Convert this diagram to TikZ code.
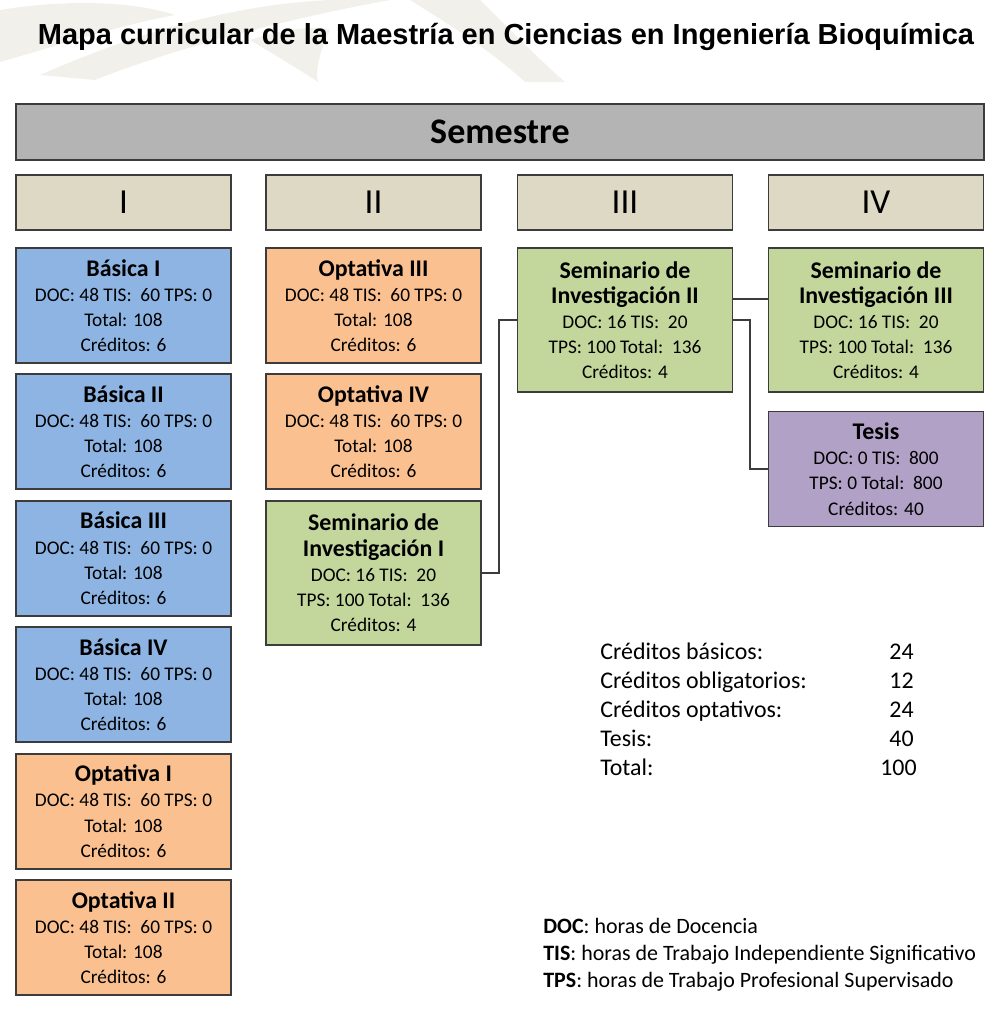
\documentclass[tikz,border=0pt]{standalone}
\usepackage{fontspec}
\setmainfont{Carlito}
\newfontfamily\titlefont{Liberation Sans}
\usetikzlibrary{positioning,calc}
\definecolor{basica}{RGB}{141,180,226}
\definecolor{optativa}{RGB}{250,192,144}
\definecolor{seminario}{RGB}{195,214,155}
\definecolor{tesis}{RGB}{178,161,199}
\definecolor{encab}{RGB}{221,217,196}
\definecolor{barra}{RGB}{180,180,180}
\definecolor{marco}{RGB}{60,60,60}
\definecolor{marca}{RGB}{242,240,234}

% renglon de titulo de una materia
\newcommand{\tit}[1]{{\fontsize{13.6}{16}\selectfont\bfseries #1}}
\newcommand{\horasA}{DOC: 48 TIS:\ \ 60 TPS: 0\\Total: 108\\Créditos: 6}
\newcommand{\horasS}{DOC: 16 TIS:\ \ 20\\TPS: 100 Total:\ \ 136\\Créditos: 4}

\begin{document}
\begin{tikzpicture}[x=0.02cm,y=-0.02cm,
  caja/.style={draw=marco,line width=1.1pt,minimum width=4.30cm,minimum height=2.30cm,
    align=center,font=\fontsize{11}{14.3}\selectfont,inner sep=2pt},
  alta/.style={caja,minimum height=2.88cm},
  sem/.style={draw=marco,line width=1.1pt,fill=encab,minimum width=4.30cm,minimum height=1.11cm,
    font=\fontsize{20}{24}\selectfont},
  liga/.style={marco,line width=1.1pt},
  leyenda/.style={font=\fontsize{13.6}{16}\selectfont,inner sep=0pt},
  nota/.style={font=\fontsize{12.5}{15}\selectfont,inner sep=0pt},
]
  \useasboundingbox (0,0) rectangle (1000,1014);

  % marca de agua
  \fill[marca] (0,10) .. controls (60,0) and (130,0) .. (175,15) .. controls (120,25) and (60,45) .. (0,62) -- cycle;
  \fill[marca] (40,75) .. controls (120,40) and (220,5) .. (330,0) -- (390,0) .. controls (280,20) and (170,50) .. (95,80) -- cycle;
  \fill[marca] (250,40) .. controls (280,30) and (310,25) .. (330,30) .. controls (320,50) and (315,70) .. (318,82) .. controls (300,70) and (275,55) .. (250,40) -- cycle;
  \fill[marca] (410,0) -- (480,0) .. controls (510,30) and (540,60) .. (565,82) -- (525,82) .. controls (490,50) and (450,25) .. (410,0) -- cycle;

  \node[font=\titlefont\bfseries\fontsize{16.5}{20}\selectfont] (titulo) at (506,37)
    {Mapa curricular de la Maestría en Ciencias en Ingeniería Bioquímica};

  \node[draw=marco,line width=1.1pt,fill=barra,minimum width=19.36cm,minimum height=1.13cm,
    font=\fontsize{20.5}{24}\selectfont\bfseries] (semestre) at (500,132) {Semestre};

  \node[sem] (s1) at (123.5,202.5) {I};
  \node[sem] (s2) at (373.5,202.5) {II};
  \node[sem] (s3) at (625,202.5) {III};
  \node[sem] (s4) at (876,202.5) {IV};

  % primer semestre
  \node[caja,fill=basica] (b1) at (123.5,305.5) {\tit{Básica I}\\\horasA};
  \node[caja,fill=basica,below=0.19cm of b1] (b2) {\tit{Básica II}\\\horasA};
  \node[caja,fill=basica,below=0.19cm of b2] (b3) {\tit{Básica III}\\\horasA};
  \node[caja,fill=basica,below=0.19cm of b3] (b4) {\tit{Básica IV}\\\horasA};
  \node[caja,fill=optativa,below=0.19cm of b4] (o1) {\tit{Optativa I}\\\horasA};
  \node[caja,fill=optativa,below=0.19cm of o1] (o2) {\tit{Optativa II}\\\horasA};

  % segundo semestre
  \node[caja,fill=optativa] (o3) at (373.5,305.5) {\tit{Optativa III}\\\horasA};
  \node[caja,fill=optativa,below=0.19cm of o3] (o4) {\tit{Optativa IV}\\\horasA};
  \node[alta,fill=seminario,below=0.19cm of o4] (sem1) {\tit{Seminario de}\\\tit{Investigación I}\\\horasS};

  % tercer y cuarto semestre
  \node[alta,fill=seminario] (sem2) at (625,320) {\tit{Seminario de}\\\tit{Investigación II}\\\horasS};
  \node[alta,fill=seminario] (sem3) at (876,320) {\tit{Seminario de}\\\tit{Investigación III}\\\horasS};
  \node[caja,fill=tesis] (tesis) at (876,469) {\tit{Tesis}\\DOC: 0 TIS:\ \ 800\\TPS: 0 Total:\ \ 800\\Créditos: 40};

  \draw[liga] (sem1.east) -- ++(17,0) |- (sem2.west);
  \draw[liga] ([yshift=12pt]sem2.east) -- ([yshift=12pt]sem3.west);
  \draw[liga] (sem2.east) -- ++(17,0) |- (tesis.west);

  % resumen de creditos
  \node[leyenda,anchor=base west] (cb) at (600,659) {Créditos básicos:};
  \node[leyenda,anchor=base west] (co) at (600,688) {Créditos obligatorios:};
  \node[leyenda,anchor=base west] (cp) at (600,717) {Créditos optativos:};
  \node[leyenda,anchor=base west] (ct) at (600,746) {Tesis:};
  \node[leyenda,anchor=base west] (cx) at (600,775) {Total:};
  \node[leyenda,anchor=base east] (nb) at (914,659) {24};
  \node[leyenda,anchor=base east] (no) at (914,688) {12};
  \node[leyenda,anchor=base east] (np) at (914,717) {24};
  \node[leyenda,anchor=base east] (nt) at (914,746) {40};
  \node[leyenda,anchor=base east] (nx) at (917,775) {100};

  % claves
  \node[nota,anchor=base west] (kdoc) at (543,933) {\textbf{DOC}: horas de Docencia};
  \node[nota,anchor=base west] (ktis) at (543,960) {\textbf{TIS}: horas de Trabajo Independiente Significativo};
  \node[nota,anchor=base west] (ktps) at (543,987) {\textbf{TPS}: horas de Trabajo Profesional Supervisado};
\end{tikzpicture}
\end{document}
